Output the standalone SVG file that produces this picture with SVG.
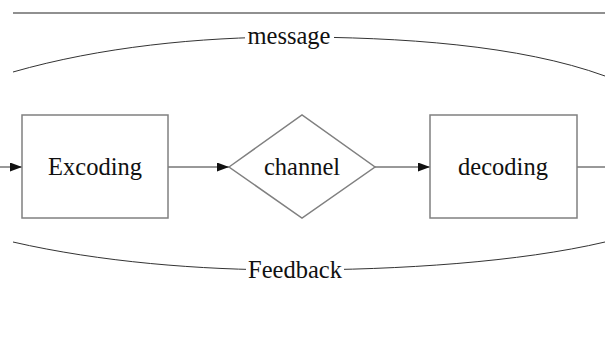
<svg xmlns="http://www.w3.org/2000/svg" width="605" height="345" viewBox="0 0 605 345">
<style>
.box{fill:#fff;stroke:#808080;stroke-width:1.5}
.edge{fill:none;stroke:#333;stroke-width:1}
text{font-family:'Liberation Serif',serif;font-size:24.5px;fill:#111;text-anchor:middle}
</style>
<defs>
<marker id="ah" viewBox="0 0 12 9" refX="12" refY="4.5" markerWidth="12" markerHeight="9" markerUnits="userSpaceOnUse" orient="auto">
<path d="M0,0 L12,4.5 L0,9 Z" fill="#111"/>
</marker>
</defs>
<rect width="605" height="345" fill="#fff"/>
<line x1="13" y1="13" x2="605" y2="13" stroke="#222" stroke-width="1.2"/>
<g id="connectors">
<path class="edge" d="M13,72 C100,47 200,37 290,37 C400,37 520,45 605,76"/>
<rect x="245" y="26" width="89" height="20" fill="#fff"/>
<text x="289" y="44">message</text>
<path class="edge" d="M13,242 C100,262 200,270 290,270 C400,270 520,262 605,242"/>
<rect x="246" y="258" width="98" height="22" fill="#fff"/>
<text x="295" y="278">Feedback</text>
<line class="edge" x1="0" y1="167" x2="22" y2="167" marker-end="url(#ah)"/>
<line class="edge" x1="168" y1="167" x2="229" y2="167" marker-end="url(#ah)"/>
<line class="edge" x1="375" y1="167" x2="430" y2="167" marker-end="url(#ah)"/>
<line class="edge" x1="577" y1="167" x2="605" y2="167"/>
</g>
<g id="node-excoding">
<rect class="box" x="22" y="115" width="146" height="103"/>
<text x="95" y="175">Excoding</text>
</g>
<g id="node-channel">
<polygon class="box" points="229,167 302,115 375,167 302,218"/>
<text x="302" y="175">channel</text>
</g>
<g id="node-decoding">
<rect class="box" x="430" y="115" width="147" height="103"/>
<text x="503" y="175">decoding</text>
</g>
</svg>
